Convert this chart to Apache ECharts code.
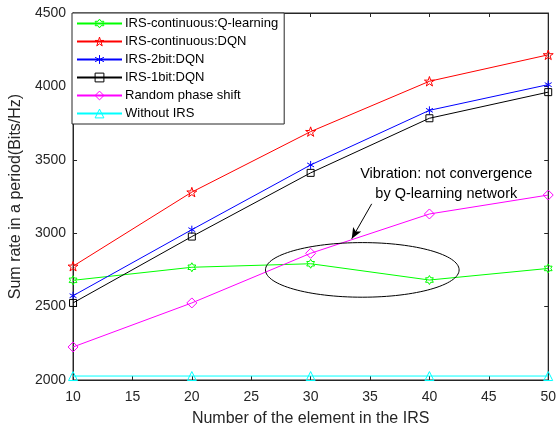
<!DOCTYPE html>
<html>
<head>
<meta charset="utf-8">
<script src="https://cdn.jsdelivr.net/npm/echarts@6/dist/echarts.min.js"></script>
<style>html,body{margin:0;padding:0;background:#fff;overflow:hidden}#c{width:559px;height:432px}</style>
</head>
<body>
<div id="c"></div>
<script>
// ---- data ----
const elements = [10, 20, 30, 40, 50];
const qLearning = [2679, 2768, 2792, 2681, 2760];
const contDQN = [2775, 3280, 3692, 4035, 4215];
const twoBitDQN = [2574, 3024, 3465, 3837, 4012];
const oneBitDQN = [2525, 2977, 3411, 3783, 3961];
const randomPhase = [2225, 2525, 2863, 3131, 3260];
const withoutIRS = [2027, 2027, 2027, 2027, 2027];
const seriesNames = ['IRS-continuous:Q-learning', 'IRS-continuous:DQN', 'IRS-2bit:DQN', 'IRS-1bit:DQN', 'Random phase shift', 'Without IRS'];
const xTicks = [10, 15, 20, 25, 30, 35, 40, 45, 50];
const yTicks = [2000, 2500, 3000, 3500, 4000, 4500];
const xAxisName = 'Number of the element in the IRS';
const yAxisName = 'Sum rate in a period(Bits/Hz)';
// annotation (data coordinates)
const noteText = ['Vibration: not convergence', 'by Q-learning network'];
const noteAt = [41.42, 3335];
const arrowFrom = [35.14, 3200];
const arrowTo = [33.46, 2962];
const ellipseCenter = [34.35, 2750];
const ellipseHalf = [8.15, 186];

const pentagram = 'path://M10,0 L12.245,6.91 L19.51,6.91 L13.63,11.18 L15.88,18.09 L10,13.82 L4.12,18.09 L6.37,11.18 L0.49,6.91 L7.755,6.91 Z';
const hexagram = 'path://M10,0 L12.887,5 L18.66,5 L15.77,10 L18.66,15 L12.887,15 L10,20 L7.113,15 L1.34,15 L4.23,10 L1.34,5 L7.113,5 Z';
const asterisk = 'path://M10,0 L10,20 M1.34,5 L18.66,15 M1.34,15 L18.66,5';

const font = 'Liberation Sans, Arial, Helvetica, sans-serif';
const axisColor = '#262626';
const clear = 'rgba(255,255,255,0)';

function mk(name, data, color, symbol, size) {
  return {
    name: name, type: 'line', data: elements.map((x, i) => [x, data[i]]),
    symbol: symbol, symbolSize: size, symbolKeepAspect: true, showSymbol: true,
    lineStyle: { color: color, width: 1 },
    itemStyle: { color: clear, borderColor: color, borderWidth: 1 },
    emphasis: { disabled: true }, animation: false, z: 3
  };
}

const chart = echarts.init(document.getElementById('c'), null, { renderer: 'canvas', width: 559, height: 432 });
const tickCommon = { show: true, inside: true, length: 4, lineStyle: { color: axisColor, width: 1 } };
const option = {
  animation: false,
  textStyle: { fontFamily: font },
  grid: { left: 72, right: 10, top: 13, bottom: 44, show: true, borderColor: axisColor, borderWidth: 1, backgroundColor: '#fff' },
  legend: {
    data: seriesNames, orient: 'vertical', left: 72, top: 13,
    backgroundColor: '#fff', borderColor: axisColor, borderWidth: 1, borderRadius: 0,
    padding: [4, 6, 4, 4], itemWidth: 45, itemHeight: 11, itemGap: 5,
    itemStyle: { color: clear, borderColor: 'inherit', borderWidth: 1 },
    textStyle: { fontSize: 13, color: '#000', fontFamily: font, padding: [0, 0, 0, -2] },
    selectedMode: false
  },
  xAxis: [{
    type: 'value', min: xTicks[0], max: xTicks[xTicks.length - 1], interval: 5,
    name: xAxisName, nameLocation: 'middle', nameGap: 31,
    nameTextStyle: { fontSize: 16, color: axisColor, fontFamily: font },
    axisLine: { show: true, lineStyle: { color: axisColor } },
    axisTick: tickCommon, splitLine: { show: false },
    axisLabel: { fontSize: 14, color: axisColor, margin: 10, fontFamily: font, formatter: v => String(v) }
  }, {
    type: 'value', position: 'top', min: xTicks[0], max: xTicks[xTicks.length - 1], interval: 5,
    axisLine: { show: true, lineStyle: { color: axisColor } },
    axisTick: tickCommon, axisLabel: { show: false }, splitLine: { show: false }
  }],
  yAxis: [{
    type: 'value', min: yTicks[0], max: yTicks[yTicks.length - 1], interval: 500,
    name: yAxisName, nameLocation: 'middle', nameGap: 47,
    nameTextStyle: { fontSize: 16, color: axisColor, fontFamily: font },
    axisLine: { show: true, lineStyle: { color: axisColor } },
    axisTick: tickCommon, splitLine: { show: false },
    axisLabel: { fontSize: 14, color: axisColor, margin: 7, fontFamily: font, formatter: v => String(v) }
  }, {
    type: 'value', position: 'right', min: yTicks[0], max: yTicks[yTicks.length - 1], interval: 500,
    axisLine: { show: true, lineStyle: { color: axisColor } },
    axisTick: tickCommon, axisLabel: { show: false }, splitLine: { show: false }
  }],
  series: [
    mk(seriesNames[0], qLearning, '#00ff00', hexagram, 9),
    mk(seriesNames[1], contDQN, '#ff0000', pentagram, 10),
    mk(seriesNames[2], twoBitDQN, '#0000ff', asterisk, 8),
    mk(seriesNames[3], oneBitDQN, '#000000', 'rect', 7),
    mk(seriesNames[4], randomPhase, '#ff00ff', 'diamond', 10),
    mk(seriesNames[5], withoutIRS, '#00ffff', 'triangle', 9),
    {
      name: 'annotation', type: 'line', data: [], silent: true, z: 4,
      markLine: {
        silent: true, symbol: ['none', 'arrow'], symbolSize: [7, 11], animation: false,
        lineStyle: { color: '#000', width: 1, type: 'solid' }, label: { show: false },
        data: [[{ coord: arrowFrom }, { coord: arrowTo }]]
      },
      markPoint: {
        silent: true, symbol: 'circle', symbolSize: 0, animation: false,
        label: {
          show: true, position: 'inside', formatter: noteText.join('\n'), fontSize: 14.5,
          lineHeight: 19.5, color: '#000', fontFamily: font, align: 'center'
        },
        data: [{ coord: noteAt }]
      }
    }
  ]
};
chart.setOption(option);
const c = chart.convertToPixel({ gridIndex: 0 }, ellipseCenter);
const e1 = chart.convertToPixel({ gridIndex: 0 }, [ellipseCenter[0] + ellipseHalf[0], ellipseCenter[1] + ellipseHalf[1]]);
chart.setOption({
  graphic: [{
    type: 'ellipse', silent: true, z: 10,
    shape: { cx: c[0], cy: c[1], rx: Math.abs(e1[0] - c[0]), ry: Math.abs(e1[1] - c[1]) },
    style: { fill: 'none', stroke: '#000', lineWidth: 1 }
  }]
});
</script>
</body>
</html>
